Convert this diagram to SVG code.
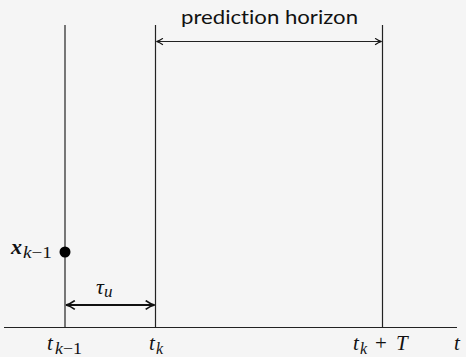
<svg xmlns="http://www.w3.org/2000/svg" width="466" height="357" viewBox="0 0 466 357">
<defs>
<style>
.ln{stroke:#222;stroke-width:1.2;fill:none}
.math{font-family:"Liberation Serif","DejaVu Serif",serif;font-style:italic;fill:#111}
.up{font-family:"Liberation Serif","DejaVu Serif",serif;fill:#111}
.lbl{font-family:"Lato","Open Sans",sans-serif;fill:#111;font-variant-ligatures:none}
</style>
<marker id="ah" viewBox="0 0 10 10" refX="9" refY="5" markerWidth="8" markerHeight="8" orient="auto-start-reverse" markerUnits="userSpaceOnUse">
<path d="M1,1 Q5,4 9,5 Q5,6 1,9" fill="none" stroke="#111" stroke-width="1.4"/>
</marker>
<marker id="ah2" viewBox="0 0 10 10" refX="9" refY="5" markerWidth="11" markerHeight="11" orient="auto-start-reverse" markerUnits="userSpaceOnUse">
<path d="M1,1 Q5,4 9,5 Q5,6 1,9" fill="none" stroke="#111" stroke-width="1.6"/>
</marker>
</defs>
<rect width="466" height="357" fill="#f5f5f5"/>
<g id="connectors">
<line class="ln" x1="4" y1="327.5" x2="457" y2="327.5"/>
<line class="ln" x1="65" y1="25" x2="65" y2="327.5"/>
<line class="ln" x1="155.5" y1="25" x2="155.5" y2="327.5"/>
<line class="ln" x1="382.5" y1="25" x2="382.5" y2="327.5"/>
<line class="ln" x1="156.5" y1="41.5" x2="381.5" y2="41.5" marker-start="url(#ah)" marker-end="url(#ah)"/>
<line x1="66" y1="305" x2="154.5" y2="305" stroke="#111" stroke-width="2" marker-start="url(#ah2)" marker-end="url(#ah2)"/>
</g>
<g id="horizon-label">
<text class="lbl" x="181" y="24" font-size="18.5" textLength="177" lengthAdjust="spacingAndGlyphs">prediction horizon</text>
</g>
<g id="state">
<circle cx="65" cy="252" r="5.5" fill="#000"/>
<text class="math" x="11" y="254" font-size="22" font-weight="bold">x</text>
<text class="math" x="23" y="258" font-size="16" textLength="29" lengthAdjust="spacingAndGlyphs">k<tspan font-style="normal">−1</tspan></text>
</g>
<g id="tau">
<text class="math" x="96" y="294" font-size="22">τ<tspan font-size="17" dy="3">u</tspan></text>
</g>
<g id="axis-labels">
<text class="math" x="47" y="350" font-size="21">t</text>
<text class="math" x="55" y="354" font-size="16" textLength="27" lengthAdjust="spacingAndGlyphs">k<tspan font-style="normal">−1</tspan></text>
<text class="math" x="149" y="350" font-size="21">t</text>
<text class="math" x="156" y="354" font-size="16">k</text>
<text class="math" x="353" y="350" font-size="21">t</text>
<text class="math" x="360" y="354" font-size="16">k</text>
<text class="up" x="375" y="350" font-size="21">+</text>
<text class="math" x="396" y="350" font-size="21">T</text>
<text class="math" x="454" y="350" font-size="21">t</text>
</g>
</svg>
